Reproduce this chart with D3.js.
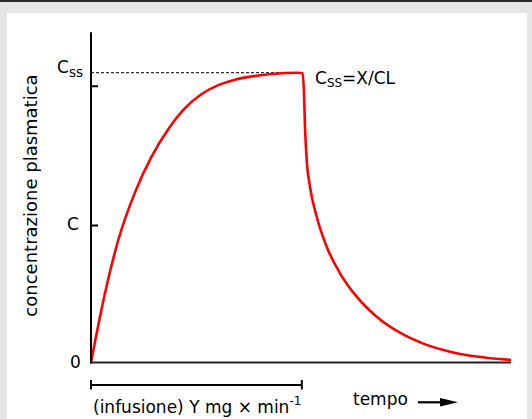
<!DOCTYPE html>
<html>
<head>
<meta charset="utf-8">
<script src="https://cdn.jsdelivr.net/npm/d3@7"></script>
<style>
  html, body { margin: 0; padding: 0; background: #e6e6e6; }
  svg { display: block; }
  text { font-family: "DejaVu Sans", Verdana, sans-serif; fill: #000; }
</style>
</head>
<body>
<svg id="chart" width="532" height="419"></svg>
<script>
// Plasma concentration during and after a constant-rate infusion
const tempo = [0, 3.33, 6.5, 10.48, 14.45, 18.4, 22.38, 26.36, 30.3, 34.3, 38.26, 43.0, 49.4, 50.4,
               50.71, 50.95, 51.36, 52.14, 53.74, 56.12, 59.29, 63.26, 68.02, 73.57, 79.12, 85.48, 91.83, 100];
const concentrazione = [0, 0.239, 0.4227, 0.587, 0.711, 0.805, 0.8775, 0.9265, 0.957, 0.976, 0.987, 0.9955, 1.0, 0.998,
                        0.930, 0.814, 0.699, 0.6066, 0.5031, 0.3996, 0.3078, 0.2271, 0.158, 0.1028, 0.0652, 0.0373, 0.0204, 0.0088];
const fineInfusione = 50.2;         // end of the infusion (time units)
const tickValori = [0.955, 0.4745];  // inward tick marks on the y axis
const etichetteY = [
  { v: 1.0, main: "C", sub: "ss" },
  { v: 0.4745, main: "C", sub: "" },
  { v: 0, main: "0", sub: "" }
];
const yMax = 1.14;
const tMax = 100;

const svg = d3.select("#chart");

// page frame: dark strip on top, grey surround, white panel
svg.append("rect").attr("x", 0).attr("y", 0).attr("width", 532).attr("height", 419).attr("fill", "#e6e6e6");
svg.append("rect").attr("x", 0).attr("y", 0).attr("width", 532).attr("height", 2).attr("fill", "#2a2a2a");
svg.append("rect").attr("x", 7).attr("y", 13).attr("width", 520).attr("height", 406).attr("fill", "#fff");

const x = d3.scaleLinear().domain([0, tMax]).range([91, 511]);
const y = d3.scaleLinear().domain([0, 1]).range([362.5, 72.7]);

// steady-state reference line
svg.append("line")
  .attr("x1", x(0)).attr("x2", x(fineInfusione))
  .attr("y1", y(1)).attr("y2", y(1))
  .attr("stroke", "#000").attr("stroke-width", 1)
  .attr("stroke-dasharray", "3,2");

// concentration curve
const line = d3.line()
  .x((d, i) => x(tempo[i]))
  .y(d => y(d))
  .curve(d3.curveMonotoneX);

svg.append("path")
  .datum(concentrazione)
  .attr("d", line)
  .attr("fill", "none")
  .attr("stroke", "#ff0000")
  .attr("stroke-width", 2.6)
  .attr("stroke-linejoin", "round");

// y axis with inward ticks
const yAxis = d3.axisRight(y).tickValues(tickValori).tickSize(7).tickFormat("");
const gy = svg.append("g").attr("transform", `translate(${x(0)},0)`).call(yAxis);
gy.select(".domain").remove();
gy.selectAll(".tick line").attr("stroke", "#000").attr("stroke-width", 2);

svg.append("line")
  .attr("x1", x(0)).attr("x2", x(0))
  .attr("y1", y(yMax)).attr("y2", y(0) + 1)
  .attr("stroke", "#000").attr("stroke-width", 2);

// x axis
svg.append("line")
  .attr("x1", x(0) - 1).attr("x2", x(tMax))
  .attr("y1", y(0)).attr("y2", y(0))
  .attr("stroke", "#222").attr("stroke-width", 2);

// y tick labels
const labPos = { 1.0: 73.3, 0.4745: 230, 0: 368 };
etichetteY.forEach(t => {
  const tx = svg.append("text")
    .attr("x", t.sub ? 57 : (t.main === "0" ? 70 : 67))
    .attr("y", labPos[t.v])
    .attr("font-size", 17);
  tx.append("tspan").text(t.main);
  if (t.sub) tx.append("tspan").attr("font-size", 13.5).attr("dy", 4).text(t.sub);
});

// steady-state annotation
const ann = svg.append("text").attr("x", 315).attr("y", 84).attr("font-size", 17);
ann.append("tspan").text("C");
ann.append("tspan").attr("font-size", 12).attr("dy", 3).text("SS");
ann.append("tspan").attr("dy", -3).text("=X/CL");

// y axis title
svg.append("text")
  .attr("transform", "translate(36.5,195.5) rotate(-90)")
  .attr("text-anchor", "middle")
  .attr("font-size", 18)
  .text("concentrazione plasmatica");

// infusion period bracket
const by = 385;
const bracket = svg.append("g").attr("stroke", "#000").attr("stroke-width", 2);
bracket.append("line").attr("x1", x(0)).attr("x2", x(fineInfusione)).attr("y1", by).attr("y2", by);
bracket.append("line").attr("x1", x(0)).attr("x2", x(0)).attr("y1", by - 5).attr("y2", by + 4.5);
bracket.append("line").attr("x1", x(fineInfusione)).attr("x2", x(fineInfusione)).attr("y1", by - 5).attr("y2", by + 4.5);

const inf = svg.append("text").attr("x", 93).attr("y", 413).attr("font-size", 17);
inf.append("tspan").text("(infusione) Y mg \u00d7 min");
inf.append("tspan").attr("font-size", 12).attr("dy", -8).text("-1");

// time label with arrow
svg.append("text").attr("x", 353).attr("y", 405).attr("font-size", 17).text("tempo");
svg.append("line")
  .attr("x1", 418).attr("x2", 446).attr("y1", 402.3).attr("y2", 402.3)
  .attr("stroke", "#000").attr("stroke-width", 2.2);
svg.append("path")
  .attr("d", "M440,398 L458,402.3 L440,406.6 Z")
  .attr("fill", "#000");
</script>
</body>
</html>
